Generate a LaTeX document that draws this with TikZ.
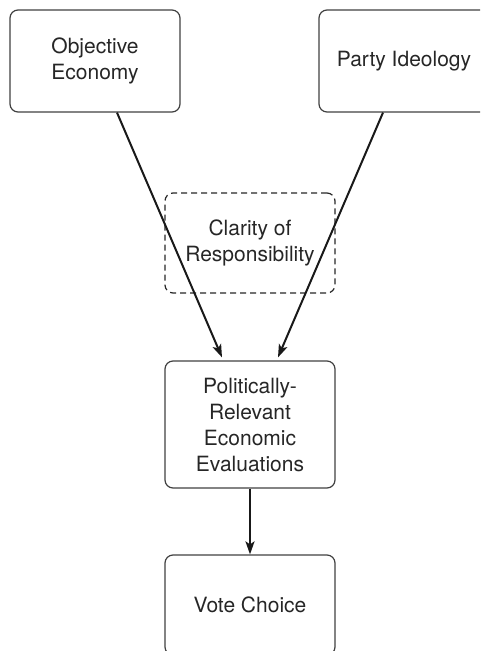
\documentclass[tikz,border=0pt]{standalone}
\usepackage{fontspec}
\setmainfont{TeX Gyre Heros}
\usetikzlibrary{arrows.meta}
\tikzset{
  box/.style={
    draw=black!75, line width=1.2pt, rounded corners=8pt,
    minimum width=170pt, align=center, text=black!85,
    font=\fontsize{21}{26}\selectfont
  },
  dashbox/.style={box, draw=black!85, dashed, dash pattern=on 6pt off 4pt},
  link/.style={
    draw=black!90, line width=2pt,
    -{Stealth[length=13pt,width=9pt,inset=3pt]}
  }
}
\begin{document}
\begin{tikzpicture}[x=1pt,y=-1pt]
\newcommand{\midx}{250}
\clip (0,0) rectangle (480,651);
\useasboundingbox (0,0) rectangle (480,651);
\node [box, minimum height=102pt] (econ) at (95,61) {Objective\\Economy};
\node [box, minimum height=102pt] (ideo) at (404,61) {Party Ideology};
\node [dashbox, minimum height=100pt] (clar) at (\midx,243) {Clarity of\\Responsibility};
\node [box, minimum height=127pt] (eval) at (\midx,424.5) {Politically-\\Relevant\\Economic\\Evaluations};
\node [box, minimum height=100pt] (vote) at (\midx,605) {Vote Choice};
\draw [link] ([xshift=22pt]econ.south) -- ([xshift=-28pt,yshift=3pt]eval.north);
\draw [link] ([xshift=-21pt]ideo.south) -- ([xshift=28pt,yshift=3pt]eval.north);
\draw [link] (eval.south) -- (vote.north);
\end{tikzpicture}
\end{document}
